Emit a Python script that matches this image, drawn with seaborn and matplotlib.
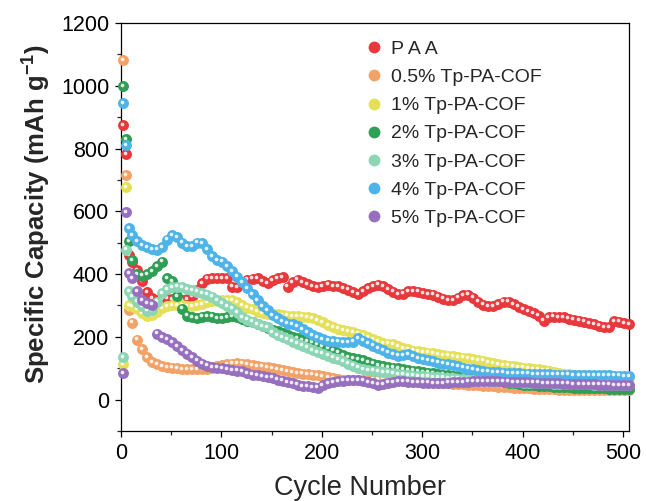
import matplotlib
matplotlib.use("Agg")
import matplotlib.pyplot as plt
import matplotlib.transforms as mtransforms
from matplotlib.lines import Line2D
from matplotlib.ticker import MultipleLocator
import pandas as pd
import seaborn as sns

# Cycle numbers at which capacity was recorded
cycles = [2, 5, 8] + list(range(11, 507, 5))

# Specific capacity (mAh g-1) for each binder
paa = [874, 782, 460, 440, 412, 378, 342, 324, 318, 320,
       322, 320, 318, 318, 320, 328, 350, 372, 385, 388,
       388, 388, 388, 360, 358, 376, 382, 385, 388, 378,
       372, 380, 388, 390, 360, 375, 382, 375, 368, 362,
       358, 362, 366, 362, 362, 355, 350, 342, 336, 345,
       355, 362, 366, 362, 352, 344, 336, 338, 345, 346,
       344, 340, 336, 334, 328, 322, 316, 318, 325, 332,
       334, 325, 312, 303, 298, 297, 305, 312, 312, 305,
       296, 288, 282, 276, 268, 252, 262, 264, 263, 262,
       258, 255, 252, 248, 244, 240, 236, 232, 230, 250,
       248, 244, 240]
cof_05 = [1081, 715, 285, 245, 191, 160, 135, 120, 112, 107,
          104, 102, 100, 98, 97, 96, 96, 96, 98, 102,
          106, 110, 113, 115, 116, 115, 112, 110, 107, 105,
          103, 101, 97, 93, 90, 87, 85, 83, 81, 80,
          78, 75, 72, 68, 65, 63, 62, 62, 62, 62,
          63, 64, 65, 64, 63, 62, 61, 60, 59, 58,
          57, 56, 55, 55, 54, 53, 52, 51, 50, 49,
          48, 47, 45, 44, 43, 42, 41, 40, 39, 38,
          37, 36, 36, 35, 34, 34, 33, 33, 32, 32,
          31, 31, 31, 30, 30, 30, 30, 30, 30, 30,
          30, 31, 31]
cof_1 = [114, 677, 300, 297, 288, 276, 268, 270, 280, 292,
         298, 300, 302, 300, 298, 298, 300, 305, 310, 313,
         315, 317, 318, 316, 310, 300, 293, 288, 280, 276,
         274, 273, 272, 270, 268, 266, 265, 264, 262, 260,
         254, 246, 238, 232, 226, 222, 218, 214, 210, 205,
         198, 192, 186, 180, 178, 176, 170, 165, 160, 156,
         154, 152, 150, 148, 145, 142, 140, 138, 136, 134,
         132, 128, 126, 124, 120, 117, 114, 110, 108, 106,
         104, 102, 100, 98, 96, 94, 92, 88, 85, 83,
         81, 79, 78, 77, 76, 75, 74, 73, 73, 72,
         72, 71, 70]
cof_2 = [998, 829, 505, 445, 400, 395, 400, 410, 425, 440,
         388, 378, 330, 290, 268, 262, 260, 264, 266, 264,
         260, 260, 262, 265, 262, 258, 252, 246, 242, 236,
         228, 222, 218, 212, 206, 200, 195, 190, 186, 182,
         176, 170, 164, 158, 150, 142, 135, 132, 130, 126,
         120, 115, 110, 106, 104, 102, 100, 98, 95, 92,
         90, 88, 86, 84, 82, 80, 78, 76, 74, 72,
         70, 68, 66, 64, 62, 60, 58, 56, 54, 52,
         50, 48, 46, 45, 44, 43, 42, 41, 40, 40,
         39, 38, 38, 37, 37, 36, 36, 36, 35, 35,
         35, 35, 35]
cof_3 = [136, 478, 345, 330, 312, 297, 283, 285, 312, 340,
         352, 358, 360, 358, 352, 348, 344, 340, 334, 328,
         318, 308, 298, 290, 278, 262, 255, 248, 240, 234,
         230, 215, 205, 198, 192, 185, 178, 172, 166, 158,
         152, 146, 140, 134, 128, 122, 115, 108, 102, 98,
         95, 92, 90, 88, 86, 84, 82, 80, 78, 76,
         75, 74, 73, 72, 71, 70, 69, 68, 67, 66,
         65, 64, 63, 62, 61, 60, 59, 58, 57, 56,
         55, 54, 54, 53, 53, 52, 52, 51, 51, 50,
         50, 50, 49, 49, 49, 48, 48, 48, 48, 48,
         47, 47, 47]
cof_4 = [945, 810, 547, 525, 505, 492, 485, 480, 478, 485,
         510, 523, 518, 500, 488, 490, 500, 498, 480, 458,
         445, 440, 425, 410, 392, 375, 355, 335, 318, 298,
         285, 270, 260, 250, 242, 240, 235, 225, 215, 205,
         198, 192, 188, 186, 185, 184, 182, 185, 195, 188,
         180, 172, 164, 158, 150, 144, 140, 142, 145, 138,
         132, 128, 126, 123, 118, 115, 112, 110, 106, 102,
         99, 96, 93, 91, 89, 88, 87, 86, 85, 84,
         84, 83, 83, 82, 82, 81, 81, 80, 80, 80,
         80, 79, 79, 78, 78, 78, 77, 77, 77, 76,
         76, 75, 74]
cof_5 = [85, 598, 404, 388, 345, 318, 308, 303, 210, 200,
         192, 182, 170, 158, 146, 135, 124, 115, 108, 104,
         102, 100, 98, 95, 92, 90, 85, 80, 77, 74,
         72, 70, 64, 60, 56, 52, 48, 44, 42, 40,
         38, 45, 52, 56, 58, 60, 62, 62, 61, 60,
         56, 52, 48, 50, 54, 56, 58, 58, 57, 56,
         55, 54, 54, 53, 53, 53, 54, 55, 56, 56,
         57, 58, 58, 59, 59, 58, 58, 57, 57, 56,
         56, 55, 55, 54, 54, 53, 53, 52, 52, 51,
         51, 50, 50, 50, 49, 49, 48, 48, 48, 47,
         47, 47, 46]

labels = ["P\u2009A\u2009A", "0.5% Tp-PA-COF", "1% Tp-PA-COF", "2% Tp-PA-COF",
          "3% Tp-PA-COF", "4% Tp-PA-COF", "5% Tp-PA-COF"]
colors = ["#E8383C", "#F2A266", "#E4E05A", "#2E9F55",
          "#8CD5B5", "#4DB3E8", "#9670BF"]
values = [paa, cof_05, cof_1, cof_2, cof_3, cof_4, cof_5]

frames = []
for lab, vals in zip(labels, values):
    frames.append(pd.DataFrame({"Cycle": cycles, "Capacity": vals, "Sample": lab}))
df = pd.concat(frames, ignore_index=True)

sns.set_style("ticks")
plt.rcParams["font.family"] = ["Liberation Sans", "DejaVu Sans"]
plt.rcParams["mathtext.fontset"] = "custom"
plt.rcParams["mathtext.bf"] = "Liberation Sans:bold"
plt.rcParams["mathtext.rm"] = "Liberation Sans"

fig = plt.figure(figsize=(6.46, 5.01), dpi=100)
ax = fig.add_axes([121 / 646, 70 / 501, 508 / 646, 408 / 501])

# glossy beads: coloured disc plus a small offset white highlight, one sample at a time
shine = mtransforms.offset_copy(ax.transData, fig=fig, x=-1.3, y=1.3, units="dots")
for i, (lab, col) in enumerate(zip(labels, colors)):
    sub = df[df["Sample"] == lab]
    sns.scatterplot(data=sub, x="Cycle", y="Capacity", color=col, s=62,
                    linewidth=0, legend=False, ax=ax, clip_on=False, zorder=3 + 2 * i)
    sns.scatterplot(data=sub, x="Cycle", y="Capacity", color="white", s=7,
                    linewidth=0, alpha=0.85, legend=False, ax=ax, clip_on=False,
                    transform=shine, zorder=4 + 2 * i)

ax.set_xlim(0, 506)
ax.set_ylim(-100, 1200)
ax.xaxis.set_major_locator(MultipleLocator(100))
ax.xaxis.set_minor_locator(MultipleLocator(50))
ax.yaxis.set_major_locator(MultipleLocator(200))
ax.yaxis.set_minor_locator(MultipleLocator(100))
ax.tick_params(which="major", direction="out", length=4.5, width=0.9,
               labelsize=15.5, pad=4, colors="black")
ax.tick_params(which="minor", direction="out", length=2.8, width=0.9)
ax.tick_params(top=False, right=False, which="both")
for sp in ax.spines.values():
    sp.set_linewidth(0.9)
    sp.set_color("black")

ax.set_xlabel("Cycle Number", fontsize=19.5)
ax.xaxis.label.set_verticalalignment("center")
ax.xaxis.set_label_coords(0.4705, -0.14)
ax.set_ylabel(r"Specific Capacity (mAh g$^{\mathbf{-1}}$)", fontsize=18.5,
              fontweight="bold")
ax.yaxis.label.set_verticalalignment("center")
ax.yaxis.set_label_coords(-0.169, 0.532)

handles = [Line2D([], [], linestyle="", marker="o", markersize=8.5,
                  markerfacecolor=c, markeredgewidth=0) for c in colors]
ax.legend(handles, labels, loc="upper left", bbox_to_anchor=(0.478, 0.957),
          frameon=False, fontsize=14, handlelength=1.0, handletextpad=0.4,
          labelspacing=0.54, borderpad=0, borderaxespad=0)

fig.savefig("out.png", dpi=100)
